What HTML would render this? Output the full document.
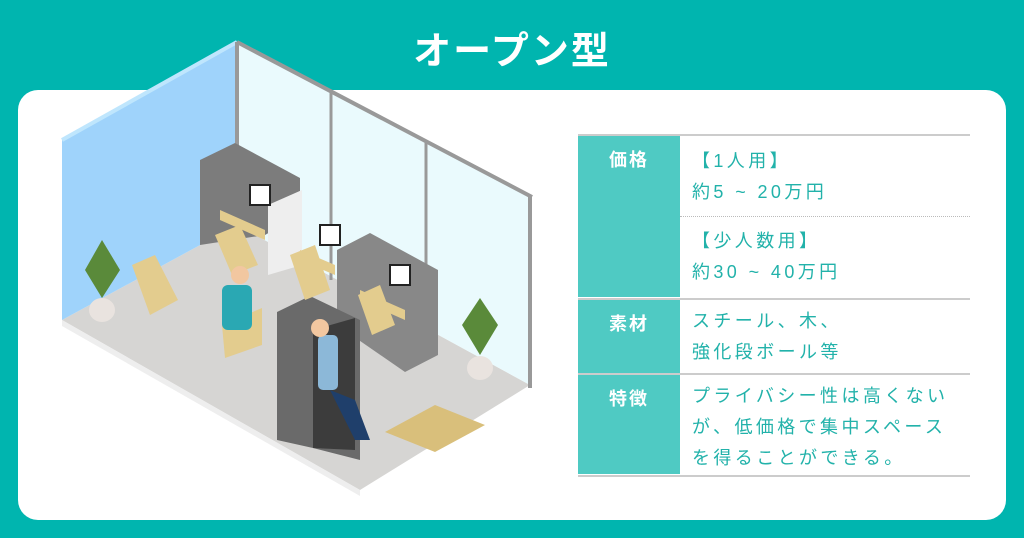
<!DOCTYPE html>
<html><head><meta charset="utf-8"><style>
body{margin:0;width:1024px;height:538px;background:#00b5af;position:relative;overflow:hidden;font-family:"Liberation Sans","Noto Sans CJK JP",sans-serif}
.title{position:absolute;left:0;width:1024px;top:20px;text-align:center;color:#fff;font-size:38px;font-weight:bold;letter-spacing:2px}
.card{position:absolute;left:18px;top:90px;width:988px;height:430px;background:#fff;border-radius:20px}
svg{position:absolute;left:0;top:0}
.lab{position:absolute;left:578px;width:102px;background:#4fcac3;color:#fff;font-weight:bold;font-size:18px;letter-spacing:2px;text-align:center;padding-top:10px;box-sizing:border-box;border-bottom:2px solid #fff}
.val{position:absolute;left:692px;color:#22b2aa;font-size:18px;letter-spacing:3.4px;line-height:31px}
.ln{position:absolute;left:578px;width:392px;height:2px;background:#ccc}
</style></head><body>
<div class="card"></div>
<svg width="1024" height="538">
<polygon points="62,320 237,225 530,385 360,490" fill="#d6d5d3"/>
<polygon points="62,320 360,490 360,496 62,326" fill="#eee"/>
<polygon points="62,140 237,42 237,225 62,320" fill="#9fd3fb"/>
<line x1="62" y1="140" x2="237" y2="42" stroke="#bfe6fd" stroke-width="4"/>
<polygon points="237,42 530,195 530,385 237,225" fill="#eafafd"/>
<line x1="237" y1="42" x2="237" y2="228" stroke="#999" stroke-width="4"/>
<line x1="237" y1="42" x2="532" y2="197" stroke="#999" stroke-width="4"/>
<line x1="331" y1="92" x2="331" y2="280" stroke="#999" stroke-width="3"/>
<line x1="426" y1="142" x2="426" y2="330" stroke="#999" stroke-width="3"/>
<line x1="530" y1="195" x2="530" y2="388" stroke="#999" stroke-width="4"/>
<polygon points="200,160 235,143 300,178 300,215 265,235 200,245" fill="#7c7c7c"/>
<polygon points="268,205 302,190 302,265 268,275" fill="#eee"/>
<polygon points="337,250 370,233 438,270 438,355 405,372 337,325" fill="#888"/>
<polygon points="277,312 310,296 360,320 360,460 313,448 277,440" fill="#6a6a6a"/>
<polygon points="313,330 355,318 355,450 313,448" fill="#3c3c3c"/>
<polygon points="220,210 265,230 265,240 220,220" fill="#e3cc8e"/>
<polygon points="300,250 335,265 335,275 300,260" fill="#e3cc8e"/>
<polygon points="360,290 405,310 405,320 360,300" fill="#e3cc8e"/>
<polygon points="132,265 155,255 178,300 150,315" fill="#e3cc8e"/>
<polygon points="215,235 240,225 258,265 232,275" fill="#e3cc8e"/>
<polygon points="290,255 315,245 330,290 305,300" fill="#e3cc8e"/>
<polygon points="222,325 262,308 262,345 225,358" fill="#e3cc8e"/>
<polygon points="358,295 380,285 395,325 372,335" fill="#e3cc8e"/>
<rect x="250" y="185" width="20" height="20" fill="#fff" stroke="#222" stroke-width="2"/>
<rect x="320" y="225" width="20" height="20" fill="#fff" stroke="#222" stroke-width="2"/>
<rect x="390" y="265" width="20" height="20" fill="#fff" stroke="#222" stroke-width="2"/>
<rect x="222" y="285" width="30" height="45" rx="6" fill="#2aa8b3"/>
<circle cx="240" cy="275" r="9" fill="#f2c7a0"/>
<rect x="318" y="335" width="20" height="55" rx="5" fill="#8cb8d8"/>
<circle cx="320" cy="328" r="9" fill="#f2c7a0"/>
<polygon points="330,390 355,400 370,440 355,440" fill="#1f3f6b"/>
<ellipse cx="102" cy="310" rx="13" ry="12" fill="#e9e3df"/>
<polygon points="102,240 85,270 102,298 120,270" fill="#5a8a3a"/>
<ellipse cx="480" cy="368" rx="13" ry="12" fill="#e9e3df"/>
<polygon points="480,298 462,325 480,355 498,325" fill="#5a8a3a"/>
<polygon points="385,432 435,405 485,425 435,452" fill="#d9bf7b"/>
</svg>
<div class="title">オープン型</div>
<div class="ln" style="top:134px"></div>
<div class="lab" style="top:136px;height:163px">価格</div>
<div class="val" style="top:146px">【1人用】<br>約5 ~ 20万円</div>
<div style="position:absolute;left:680px;top:216px;width:290px;border-top:1px dotted #bbb"></div>
<div class="val" style="top:226px">【少人数用】<br>約30 ~ 40万円</div>
<div class="ln" style="top:298px"></div>
<div class="lab" style="top:300px;height:75px">素材</div>
<div class="val" style="top:306px">スチール、木、<br>強化段ボール等</div>
<div class="ln" style="top:373px"></div>
<div class="lab" style="top:375px;height:101px">特徴</div>
<div class="val" style="top:381px">プライバシー性は高くない<br>が、低価格で集中スペース<br>を得ることができる。</div>
<div class="ln" style="top:475px"></div>
</body></html>
